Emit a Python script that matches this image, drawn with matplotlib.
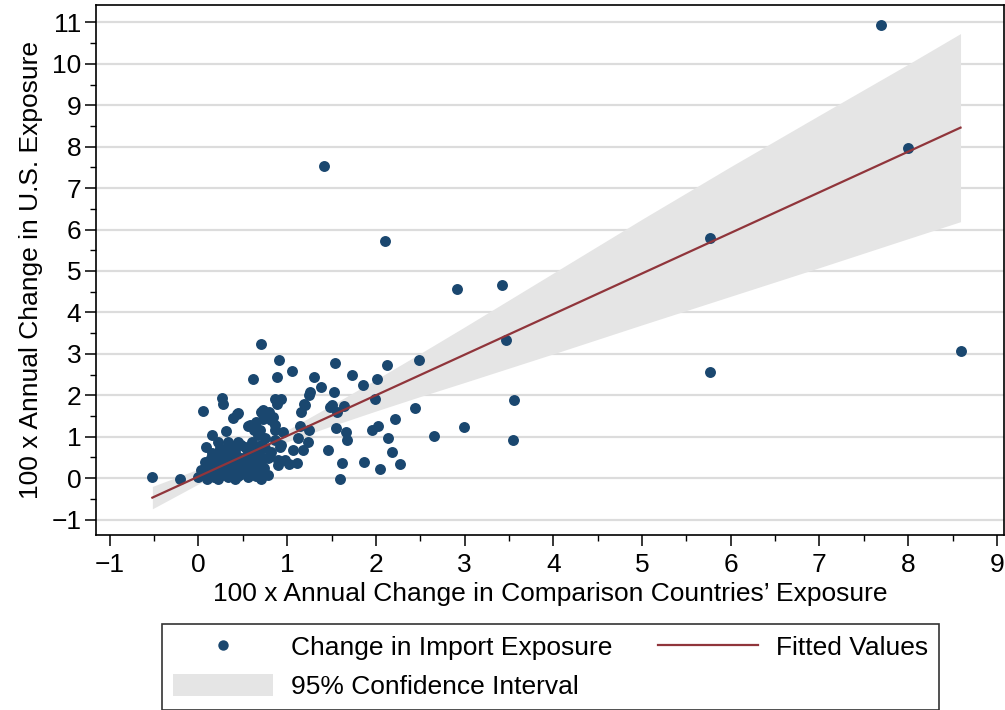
import numpy as np
import matplotlib
matplotlib.use("Agg")
import matplotlib.pyplot as plt
from matplotlib.patches import Patch
from matplotlib.lines import Line2D
from matplotlib.ticker import MultipleLocator

plt.rcParams['font.family'] = ['Liberation Sans', 'DejaVu Sans']

# scatter points (comparison countries, U.S.)
comp_x = [7.69, 8.00, 5.77, 5.77, 8.59, 1.41, 2.10, 2.91, 3.42, 3.47, 3.56, 3.55,
          2.99, 2.66, 2.48, 2.44,
          0.71, 0.91, 1.05, 0.88, 1.54, 1.30, 1.38, 1.73, 2.13, 2.01, 1.85, 1.53,
          1.26, 1.25, 0.86, 0.93, 1.19, 1.16, 1.48, 1.64, 1.56, 1.99, 2.22, 1.14,
          1.25, 1.55, 1.66, 1.67, 1.96, 2.02, 2.14, 2.18, 2.27, 2.05, 1.87, 1.62,
          1.60, 1.46, 1.24, 1.12, 1.18, 1.07, 1.11, 1.02, 0.90, 0.79, 0.97, 0.69,
          0.92, 0.95, 0.86, 0.84, 0.80, 0.73, 0.86, 0.62, 0.26, 0.28, 0.05, 0.88,
          0.43, 0.39, 0.70, 0.73, 0.82, 0.56, 0.63, 0.31, 0.15, 1.20, 1.50,
          -0.52, -0.21, 0.09, 0.58, 0.67, 0.44, 0.65, 0.69, 0.75, 0.86, 0.22, 0.44,
          0.33, 0.52, 0.60, 0.78, 0.93, 0.07, 0.03, 0.00, 0.14, 0.22, 0.29, 0.41,
          0.37, 0.26, 0.14, 0.10, 0.22, 0.33, 0.48, 0.60, 0.67, 0.52, 0.44, 0.33,
          0.71, 0.63, 0.29, 0.18, 0.07, 0.18, 0.41, 0.56, 0.71, 0.78, 0.26, 0.48,
          0.37, 0.67, 0.75, 0.56, 0.48, 0.33, 0.24, 0.82, 0.90,
          0.05, 0.12, 0.20, 0.30, 0.40, 0.45, 0.55, 0.62, 0.70, 0.38, 0.50, 0.58,
          0.65, 0.15, 0.28, 0.45, 0.55, 0.62, 0.70, 0.40, 0.20, 0.35, 0.74, 0.12]
us_y = [10.93, 7.96, 5.80, 2.56, 3.06, 7.53, 5.72, 4.57, 4.65, 3.33, 1.88, 0.93,
        1.24, 1.01, 2.84, 1.70,
        3.23, 2.86, 2.58, 2.44, 2.78, 2.43, 2.20, 2.49, 2.73, 2.40, 2.25, 2.08,
        2.08, 2.00, 1.92, 1.92, 1.80, 1.60, 1.72, 1.75, 1.60, 1.92, 1.42, 1.25,
        1.16, 1.20, 1.11, 0.91, 1.16, 1.26, 0.96, 0.63, 0.35, 0.23, 0.39, 0.36,
        -0.01, 0.69, 0.88, 0.97, 0.68, 0.68, 0.37, 0.35, 0.43, 0.50, 0.43, 0.12,
        0.76, 1.12, 1.28, 1.48, 1.60, 1.64, 1.16, 2.40, 1.94, 1.79, 1.61, 1.79,
        1.54, 1.46, 1.60, 1.42, 1.40, 1.26, 1.16, 1.14, 1.04, 1.76, 1.76,
        0.03, -0.02, 0.76, 1.28, 1.04, 1.58, 1.36, 1.16, 0.96, 0.92, 0.88, 0.88,
        0.72, 0.76, 0.88, 0.48, 0.80, 0.39, 0.19, 0.03, 0.48, 0.60, 0.55, 0.63,
        0.39, 0.27, 0.15, -0.01, -0.01, 0.03, 0.11, 0.27, 0.15, 0.31, 0.19, 0.23,
        0.35, 0.43, 0.39, 0.35, 0.07, 0.03, -0.01, 0.03, -0.01, 0.07, 0.07, 0.48,
        0.55, 0.63, 0.72, 0.60, 0.80, 0.88, 0.72, 0.63, 0.31,
        0.12, 0.25, 0.45, 0.65, 0.78, 0.40, 0.45, 0.55, 0.50, 0.12, 0.20, 0.15,
        0.05, 0.60, 0.10, 0.05, 0.70, 0.72, 0.80, 0.30, 0.15, 0.47, 0.25, 0.05]

# fitted line and 95% CI band
fit_x = [-0.52, 0.0, 0.5, 1.0, 1.5, 2.0, 2.5, 3.0, 4.0, 5.0, 6.0, 7.0, 8.0, 8.59]
fit_y = [-0.47, 0.04, 0.53, 1.02, 1.51, 2.00, 2.49, 2.98, 3.96, 4.94, 5.92, 6.90, 7.88, 8.46]
ci_hi = [-0.20, 0.22, 0.66, 1.16, 1.76, 2.38, 3.01, 3.65, 4.95, 6.25, 7.52, 8.76, 9.99, 10.73]
ci_lo = [-0.74, -0.14, 0.40, 0.88, 1.26, 1.62, 1.97, 2.31, 3.00, 3.70, 4.39, 5.08, 5.78, 6.19]

navy = "#1a476f"
maroon = "#90353b"
band = "#e5e5e5"

fig = plt.figure(figsize=(10.05, 7.1), dpi=100)
ax = fig.add_axes([0.096, 0.246, 0.903, 0.747])

ax.fill_between(fit_x, ci_lo, ci_hi, color=band, lw=0, zorder=1)
ax.scatter(comp_x, us_y, s=62, color=navy, lw=0, zorder=2)
ax.plot(fit_x, fit_y, color=maroon, lw=1.6, zorder=3)

ax.set_xlim(-1.15, 9.08)
ax.set_ylim(-1.38, 11.42)
ax.xaxis.set_major_locator(MultipleLocator(1))
ax.xaxis.set_minor_locator(MultipleLocator(0.5))
ax.yaxis.set_major_locator(MultipleLocator(1))
ax.yaxis.set_minor_locator(MultipleLocator(0.5))
ax.yaxis.grid(True, which='major', color="#dcdcdc", lw=1.6, zorder=0)
ax.set_axisbelow(True)
ax.tick_params(which='major', length=8, width=1.1, labelsize=19, direction='out')
ax.tick_params(which='minor', length=4, width=1.0, direction='out')
ax.tick_params(axis='y', pad=3)
ax.tick_params(axis='x', pad=5)
for s in ax.spines.values():
    s.set_linewidth(1.2)

ax.set_xlabel("100 x Annual Change in Comparison Countries\u2019 Exposure", fontsize=19, labelpad=3)
ax.set_ylabel("100 x Annual Change in U.S. Exposure", fontsize=19, labelpad=6)

handles = [
    Line2D([], [], ls='none', marker='o', ms=7.5, color=navy, mew=0),
    Patch(facecolor=band, edgecolor='none'),
    Line2D([], [], color=maroon, lw=1.6),
]
labels = ["Change in Import Exposure", "95% Confidence Interval", "Fitted Values"]
leg = fig.legend(handles, labels, ncol=2, loc='upper left',
                 bbox_to_anchor=(162 / 1005, 1 - 624 / 710), borderaxespad=0,
                 fontsize=19, frameon=True, fancybox=False, edgecolor='black',
                 handlelength=3.8, handleheight=0.9, handletextpad=0.7,
                 columnspacing=1.7, labelspacing=0.55, borderpad=0.4)
leg.get_frame().set_linewidth(1.2)

fig.savefig("out.png", dpi=100)
